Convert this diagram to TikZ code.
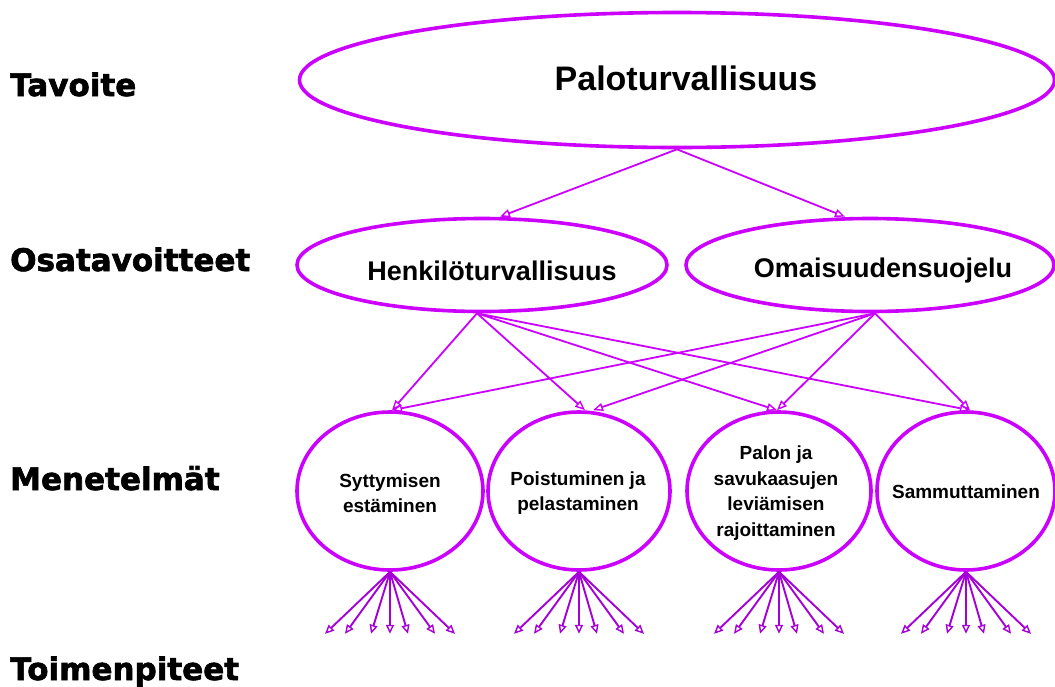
\documentclass[tikz,border=0pt]{standalone}
\usepackage{fontspec}
\setmainfont{Liberation Sans}
\newfontfamily\levelfont[BoldFeatures={FakeBold=2}]{DejaVu Sans}
\usetikzlibrary{shapes.geometric,arrows.meta,calc}
\definecolor{vio}{RGB}{204,0,255}
\definecolor{viodark}{RGB}{165,0,215}
\begin{document}
\begin{tikzpicture}[x=1pt,y=-1pt,
  oval/.style={draw=vio, line width=3.6pt, ellipse, inner sep=0pt},
  link/.style={draw=vio, line width=1.8pt, -{Triangle[open,length=10pt,width=8pt,line width=1.4pt]}},
  fan/.style={draw=viodark, line width=1.9pt, -{Triangle[open,length=9pt,width=8pt,line width=1.4pt]}},
  level/.style={anchor=base west, inner sep=0pt, font=\levelfont\bfseries\fontsize{31}{31}\selectfont},
  big/.style={inner sep=0pt, font=\bfseries\fontsize{34}{40}\selectfont},
  mid/.style={inner sep=0pt, font=\bfseries\fontsize{27}{32}\selectfont},
  small/.style={inner sep=0pt, align=center, font=\bfseries\fontsize{19}{25.5}\selectfont}]
\useasboundingbox[fill=white] (0,0) rectangle (1055,686);

% level labels
\node[level] (lt) at (10,96) {Tavoite};
\node[level] (lo) at (10,271) {Osatavoitteet};
\node[level] (lm) at (10,490) {Menetelmät};
\node[level] (lp) at (10,680) {Toimenpiteet};

% ellipses
\node[oval, minimum width=755pt, minimum height=135pt] (P) at (677,80) {};
\node[oval, minimum width=370pt, minimum height=93pt] (H) at (482,265) {};
\node[oval, minimum width=368pt, minimum height=93pt] (O) at (870,265) {};
\node[oval, minimum width=186pt, minimum height=158pt] (C1) at (390,491) {};
\node[oval, minimum width=182pt, minimum height=158pt] (C2) at (579,491) {};
\node[oval, minimum width=184pt, minimum height=158pt] (C3) at (779,491) {};
\node[oval, minimum width=178pt, minimum height=158pt] (C4) at (966,491) {};

% texts
\node[big] (tP) at (686,78) {Paloturvallisuus};
\node[mid] (tH) at (492,271) {Henkilöturvallisuus};
\node[mid] (tO) at (883,271) {Omaisuudensuojelu};
\node[small] (t1) at (390,493) {Syttymisen\\estäminen};
\node[small] (t2) at (578,493) {Poistuminen ja\\pelastaminen};
\node[small] (t3) at (776,493) {Palon ja\\savukaasujen\\leviämisen\\rajoittaminen};
\node[small] (t4) at (966,492) {Sammuttaminen};

% top arrows
\draw[link] (P.south) -- ([xshift=18]H.north);
\draw[link] (P.south) -- ([xshift=-25]O.north);

% middle arrows
\draw[link] ([xshift=-5]H.south) -- ([xshift=2]C1.north);
\draw[link] ([xshift=-5]H.south) -- ([xshift=6]C2.north);
\draw[link] ([xshift=-5]H.south) -- ([xshift=-2]C3.north);
\draw[link] ([xshift=-5]H.south) -- ([xshift=4]C4.north);
\draw[link] ([xshift=5]O.south) -- ([xshift=2]C1.north);
\draw[link] ([xshift=5]O.south) -- ([xshift=14]C2.north);
\draw[link] ([xshift=5]O.south) -- ([xshift=-2]C3.north);
\draw[link] ([xshift=5]O.south) -- ([xshift=4]C4.north);

% bottom fans
\foreach \c in {C1,C2,C3,C4}{
  \foreach \d [count=\i] in {-65,-45,-19,0,18,45,65}{
    \path let \p1=(\c.south) in coordinate (\c-m\i) at (\x1+\d,\y1-62pt);
    \draw[fan] (\c.south) -- (\c-m\i);
  }
}
\end{tikzpicture}
\end{document}
